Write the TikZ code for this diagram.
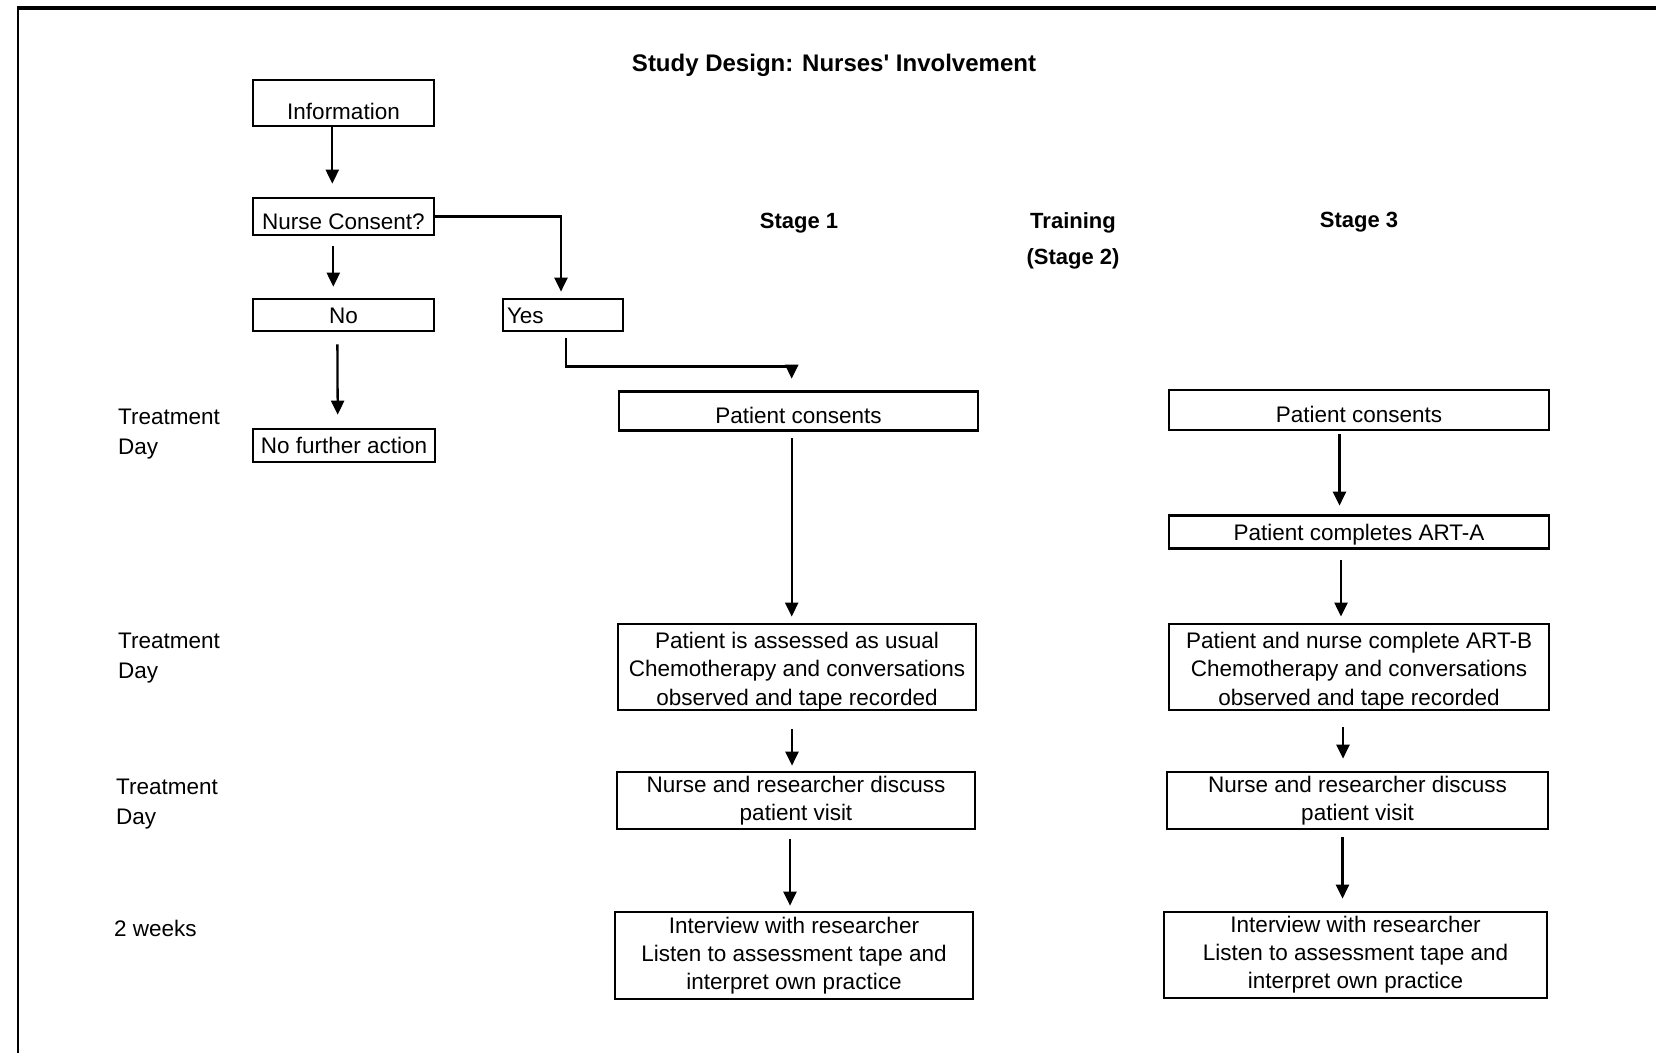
\documentclass[tikz,border=0pt]{standalone}
\usepackage{fontspec}
\setmainfont{Liberation Sans}
\usetikzlibrary{arrows.meta}
% taller first line, so three-line texts sit a little lower in their boxes
\newcommand\firstlinestrut{\rule{0pt}{24.5pt}}
\begin{document}
\begin{tikzpicture}[x=1pt,y=-1pt,
  box/.style={draw, line width=2.7pt, inner sep=0pt, align=center,
              font=\fontsize{22.5}{28}\selectfont},
  three/.style={box, font=\fontsize{22.5}{28.5}\selectfont},
  one/.style={box, text height=#1, text depth=0pt},
  one/.default=16pt,
  side/.style={inner sep=0pt, align=left, font=\fontsize{22.5}{30}\selectfont},
  head/.style={inner sep=0pt, align=center, font=\bfseries\fontsize{22}{36}\selectfont},
  arr/.style={line width=2.3pt, -{Triangle[length=14pt,width=13pt]}}]

\useasboundingbox (0,0) rectangle (1656,1053);

% page frame (left and top rules)
\draw[line width=2.2pt] (18,1053) -- (18,8);
\draw[line width=3.5pt] (17,8) -- (1656,8);

% headings
\node[head, font=\bfseries\fontsize{24}{28}\selectfont] (title) at (834,65) {Study Design: Nurses\textquotesingle{} Involvement};
\node[head] (st1) at (799,223) {Stage 1};
\node[head, anchor=north] (st2) at (1073,212) {Training\\(Stage 2)};
\node[head] (st3) at (1359,222) {Stage 3};

% time labels
\node[side, anchor=west] (t1) at (118,434) {Treatment\\Day};
\node[side, anchor=west] (t2) at (118,658) {Treatment\\Day};
\node[side, anchor=west] (t3) at (116,804) {Treatment\\Day};
\node[side, anchor=west] (t4) at (114,928) {2 weeks};

% nurse recruitment
\node[one=32pt, minimum width=181pt, minimum height=46pt] (info) at (343.5,103) {Information};
\node[one=25pt, minimum width=181pt, minimum height=37pt] (nc) at (343.5,216.5) {Nurse Consent?};
\node[one, minimum width=181pt, minimum height=32pt] (no) at (343.5,315) {No};
\node[one, minimum width=120pt, minimum height=32pt, text width=112pt, align=left] (yes) at (563,315) {Yes};
\node[one, minimum width=182pt, minimum height=33pt] (nfa) at (344,445.5) {No further action};

% stage 1
\node[one=24pt, minimum width=359pt, minimum height=39pt] (pc1) at (798.5,411) {Patient consents};
\node[three, minimum width=358pt, minimum height=81pt] (as1) at (797,667)
  {\firstlinestrut Patient is assessed as usual\\Chemotherapy and conversations\\observed and tape recorded};
\node[box, minimum width=358pt, minimum height=57pt] (nr1) at (796,800.5)
  {Nurse and researcher discuss\\patient visit};
\node[box, minimum width=358pt, minimum height=87pt] (iv1) at (794,955.5)
  {Interview with researcher\\Listen to assessment tape and\\interpret own practice};

% stage 3
\node[one=24pt, minimum width=380pt, minimum height=40pt] (pc3) at (1359,410) {Patient consents};
\node[one, minimum width=380pt, minimum height=33pt] (arta) at (1359,532) {Patient completes ART-A};
\node[three, minimum width=380pt, minimum height=82pt] (artb) at (1359,667)
  {\firstlinestrut Patient and nurse complete ART-B\\Chemotherapy and conversations\\observed and tape recorded};
\node[box, minimum width=381pt, minimum height=57pt] (nr3) at (1357.5,800.5)
  {Nurse and researcher discuss\\patient visit};
\node[box, minimum width=383pt, minimum height=86pt] (iv3) at (1355.5,955)
  {Interview with researcher\\Listen to assessment tape and\\interpret own practice};

% connectors: recruitment
\draw[arr, shorten >=13pt] ([xshift=-11.2pt]info.south) -- ([xshift=-11.2pt]nc.north);
\draw[arr, shorten <=10pt, shorten >=11pt] ([xshift=-10.2pt]nc.south) -- ([xshift=-10.2pt]no.north);
\draw[arr, shorten <=12pt, shorten >=13pt] ([xshift=-6.2pt]no.south) -- ([xshift=-6.2pt]nfa.north);
\draw[arr, shorten >=6pt] (nc.east) -| ([xshift=-2pt]yes.north);
\draw[arr, shorten <=6pt, shorten >=11.5pt] ([xshift=2.7pt]yes.south) -- ++(0,34) -| ([xshift=-6.8pt]pc1.north);

% connectors: stage 1
\draw[arr, shorten <=6.5pt, shorten >=6pt] ([xshift=-6.8pt]pc1.south) -- ([xshift=-5.3pt]as1.north);
\draw[arr, shorten <=18pt, shorten >=5pt] ([xshift=-5pt]as1.south) -- ([xshift=-4pt]nr1.north);
\draw[arr, shorten <=9pt, shorten >=5pt] ([xshift=-6pt]nr1.south) -- ([xshift=-4pt]iv1.north);

% connectors: stage 3
\draw[arr, shorten <=3pt, shorten >=8.5pt] ([xshift=-19.5pt]pc3.south) -- ([xshift=-19.5pt]arta.north);
\draw[arr, shorten <=10.5pt, shorten >=6pt] ([xshift=-18pt]arta.south) -- ([xshift=-18pt]artb.north);
\draw[arr, shorten <=16pt, shorten >=12pt] ([xshift=-16pt]artb.south) -- ([xshift=-14.5pt]nr3.north);
\draw[arr, shorten <=7pt, shorten >=12pt] ([xshift=-15pt]nr3.south) -- ([xshift=-13pt]iv3.north);

\end{tikzpicture}
\end{document}
